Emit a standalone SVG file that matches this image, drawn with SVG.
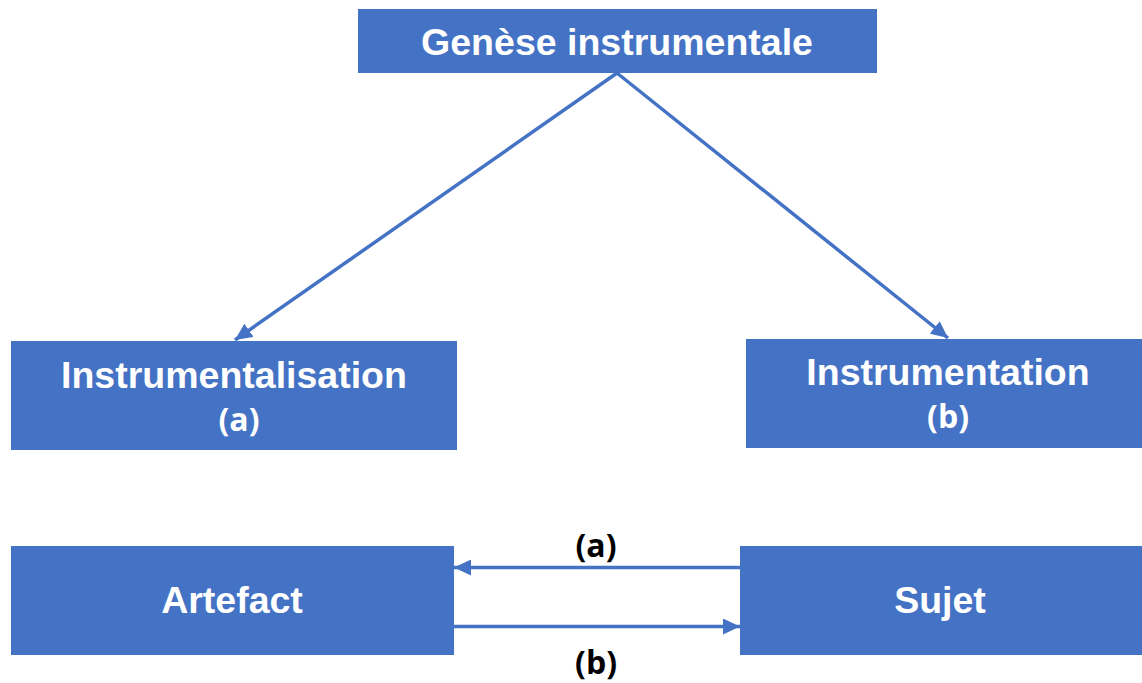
<svg xmlns="http://www.w3.org/2000/svg" width="1142" height="683" viewBox="0 0 1142 683">
<style>
.box{fill:#4472C4}
.t{font-family:"Liberation Sans",Arial,sans-serif;font-weight:bold;font-size:37.5px;fill:#fff;text-anchor:middle}
.s{font-family:"Open Sans","Noto Sans",sans-serif;font-weight:bold;font-size:32px;text-anchor:middle}
.w{fill:#fff}
.k{fill:#000}
.c{stroke:#4472C4;stroke-width:3.5;fill:none}
</style>
<defs>
<marker id="ah" markerUnits="userSpaceOnUse" markerWidth="18" markerHeight="16" viewBox="0 0 18 16" refX="17" refY="8" orient="auto">
<path d="M0,0 L17,8 L0,16 Z" fill="#4472C4"/>
</marker>
</defs>
<rect width="1142" height="683" fill="#fff"/>
<g id="connectors">
<line class="c" x1="617" y1="73" x2="235" y2="340" marker-end="url(#ah)"/>
<line class="c" x1="617" y1="73" x2="948" y2="338" marker-end="url(#ah)"/>
<line class="c" x1="740" y1="567.5" x2="454" y2="567.5" marker-end="url(#ah)"/>
<line class="c" x1="454" y1="626.5" x2="740" y2="626.5" marker-end="url(#ah)"/>
</g>
<g id="genese">
<rect class="box" x="358" y="9" width="519" height="64"/>
<text class="t" x="617" y="55">Genèse instrumentale</text>
</g>
<g id="instrumentalisation">
<rect class="box" x="11" y="341" width="446" height="109"/>
<text class="t" x="234" y="388">Instrumentalisation</text>
<text class="s w" x="239" y="431">(a)</text>
</g>
<g id="instrumentation">
<rect class="box" x="746" y="339" width="396" height="109"/>
<text class="t" x="948" y="385">Instrumentation</text>
<text class="s w" x="948" y="428">(b)</text>
</g>
<g id="artefact">
<rect class="box" x="11" y="546" width="443" height="109"/>
<text class="t" x="232" y="613">Artefact</text>
</g>
<g id="sujet">
<rect class="box" x="740" y="546" width="402" height="109"/>
<text class="t" x="940" y="613">Sujet</text>
</g>
<g id="labels">
<text class="s k" x="596" y="557">(a)</text>
<text class="s k" x="596" y="674">(b)</text>
</g>
</svg>
